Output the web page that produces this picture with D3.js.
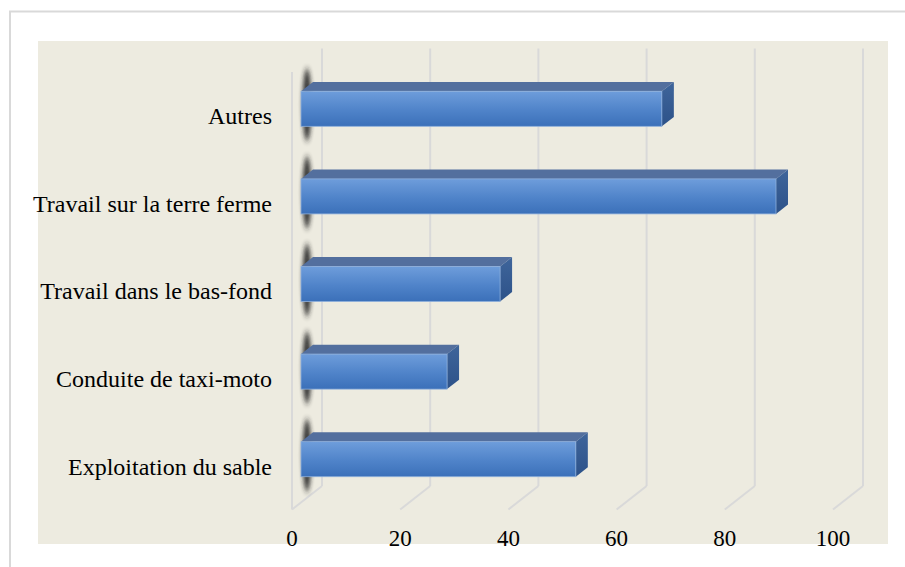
<!DOCTYPE html>
<html>
<head>
<meta charset="utf-8">
<script src="https://cdn.jsdelivr.net/npm/d3@7"></script>
<style>
  body { margin: 0; background: #fff; }
  svg { display: block; }
</style>
</head>
<body>
<div id="wrapper"></div>
<script>
// data, top to bottom as shown
const categories = [
  "Autres",
  "Travail sur la terre ferme",
  "Travail dans le bas-fond",
  "Conduite de taxi-moto",
  "Exploitation du sable",
]
const values = [66.7, 87.8, 36.8, 27, 50.8]
const tickValues = [0, 20, 40, 60, 80, 100]

const data = categories.map((c, i) => ({ name: c, value: values[i] }))

const dimensions = { width: 905, height: 567 }

// 3d projection: front floor origin and depth vector
const front = { x: 292, top: 72, bottom: 509.5 }
const depth = { dx: 30, dy: -23.5 }
const barDepth = [0.3, 0.7]

const svg = d3.select("#wrapper")
  .append("svg")
  .attr("width", dimensions.width)
  .attr("height", dimensions.height)

const defs = svg.append("defs")
const grad = defs.append("linearGradient")
  .attr("id", "barFront")
  .attr("x1", 0).attr("y1", 0).attr("x2", 0).attr("y2", 1)
grad.append("stop").attr("offset", "0%").attr("stop-color", "#6e9ddb")
grad.append("stop").attr("offset", "55%").attr("stop-color", "#4f83c9")
grad.append("stop").attr("offset", "100%").attr("stop-color", "#3b70b9")

const gradSide = defs.append("linearGradient")
  .attr("id", "barSide")
  .attr("x1", 0).attr("y1", 0).attr("x2", 0).attr("y2", 1)
gradSide.append("stop").attr("offset", "0%").attr("stop-color", "#3f659b")
gradSide.append("stop").attr("offset", "100%").attr("stop-color", "#2d5289")

defs.append("filter")
  .attr("id", "blur")
  .attr("x", "-100%").attr("y", "-50%").attr("width", "300%").attr("height", "200%")
  .append("feGaussianBlur")
  .attr("stdDeviation", "2.2 3")

// outer chart border
svg.append("rect")
  .attr("x", 10).attr("y", 11.5)
  .attr("width", 920).attr("height", 600)
  .attr("fill", "#fff")
  .attr("stroke", "#d9d9d9")
  .attr("stroke-width", 2)

// plot area
svg.append("rect")
  .attr("x", 38).attr("y", 41)
  .attr("width", 850).attr("height", 503)
  .attr("fill", "#edebe0")

// scales
const xScale = d3.scaleLinear()
  .domain([0, 100])
  .range([0, 541])

const yScale = d3.scaleBand()
  .domain(categories)
  .range([65, 503])
  .paddingInner(0.6)
  .paddingOuter(0.3)

const grid = svg.append("g")
  .attr("stroke", "#d9d9d9")
  .attr("stroke-width", 2)
  .attr("fill", "none")

// back wall verticals
grid.selectAll(".back")
  .data(tickValues)
  .join("line")
  .attr("x1", d => front.x + depth.dx + xScale(d))
  .attr("x2", d => front.x + depth.dx + xScale(d))
  .attr("y1", front.top + depth.dy)
  .attr("y2", front.bottom + depth.dy)

// floor diagonals
grid.selectAll(".floor")
  .data(tickValues)
  .join("line")
  .attr("x1", d => front.x + depth.dx + xScale(d))
  .attr("y1", front.bottom + depth.dy)
  .attr("x2", d => front.x + xScale(d))
  .attr("y2", front.bottom)

// side wall front edge
grid.append("line")
  .attr("x1", front.x).attr("x2", front.x)
  .attr("y1", front.top).attr("y2", front.bottom)

// bar shadows on the side wall
const fx = front.x + depth.dx * barDepth[0]
const bx = front.x + depth.dx * barDepth[1]
const fdy = depth.dy * barDepth[0]
const bdy = depth.dy * barDepth[1]

svg.append("g")
  .selectAll("ellipse")
  .data(data)
  .join("ellipse")
  .attr("cx", fx + 6)
  .attr("rx", 4.5)
  .attr("cy", d => yScale(d.name) + yScale.bandwidth() / 2 - 4)
  .attr("ry", d => (yScale.bandwidth() - bdy + fdy) / 2 + 14)
  .attr("fill", "#222")
  .attr("opacity", 0.9)
  .attr("filter", "url(#blur)")

// bars
const bars = svg.append("g")
  .selectAll("g")
  .data(data)
  .join("g")

const off = { dx: bx - fx, dy: bdy - fdy }

// top face
bars.append("path")
  .attr("d", d => {
    const y = yScale(d.name)
    const w = xScale(d.value)
    return `M${fx},${y} L${fx + off.dx},${y + off.dy} L${fx + w + off.dx},${y + off.dy} L${fx + w},${y} Z`
  })
  .attr("fill", "#536f9e")

// right face
bars.append("path")
  .attr("d", d => {
    const y = yScale(d.name)
    const h = yScale.bandwidth()
    const x = fx + xScale(d.value)
    return `M${x},${y} L${x + off.dx},${y + off.dy} L${x + off.dx},${y + h + off.dy} L${x},${y + h} Z`
  })
  .attr("fill", "url(#barSide)")

// front face
bars.append("rect")
  .attr("x", fx)
  .attr("y", d => yScale(d.name))
  .attr("width", d => xScale(d.value))
  .attr("height", yScale.bandwidth())
  .attr("fill", "url(#barFront)")
  .attr("stroke", "#8fb0dc")
  .attr("stroke-width", 0.8)

// category labels
svg.append("g")
  .selectAll("text")
  .data(data)
  .join("text")
  .attr("x", 272)
  .attr("y", d => yScale(d.name) + yScale.bandwidth() / 2 + 7)
  .attr("dy", "0.35em")
  .attr("text-anchor", "end")
  .style("font-family", "'Liberation Serif', 'Times New Roman', serif")
  .style("font-size", "24px")
  .attr("fill", "#000")
  .text(d => d.name)

// tick labels
svg.append("g")
  .selectAll("text")
  .data(tickValues)
  .join("text")
  .attr("x", d => front.x + xScale(d))
  .attr("y", 546)
  .attr("text-anchor", "middle")
  .style("font-family", "'Liberation Serif', 'Times New Roman', serif")
  .style("font-size", "23px")
  .attr("fill", "#000")
  .text(d => d)
</script>
</body>
</html>
